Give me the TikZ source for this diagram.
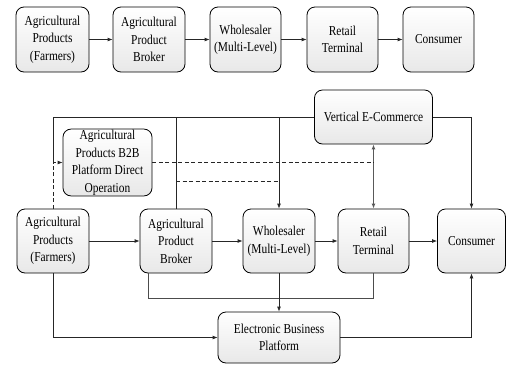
\documentclass[tikz,border=0pt]{standalone}
\usepackage{fontspec}
\setmainfont{Liberation Serif}[FakeStretch=0.84]
\usetikzlibrary{arrows.meta,calc}
\begin{document}
\begin{tikzpicture}[x=1pt,y=-1pt,
  box/.style={draw=black,line width=0.8pt,rounded corners=8pt,top color=white,bottom color=gray!18,
    inner sep=1pt,align=center,font=\fontsize{13.6}{17.5}\selectfont},
  conn/.style={draw=black!85,line width=0.8pt},
  arr/.style={conn,-{Latex[length=5pt,width=4pt]}},
  dsh/.style={conn,dashed,dash pattern=on 4pt off 2.5pt}]
\useasboundingbox (0,0) rectangle (507,365);
% top row
\node[box,minimum width=73pt,minimum height=65pt] (t1) at (52.5,39.5) {Agricultural\\Products\\(Farmers)};
\node[box,minimum width=72pt,minimum height=65pt] (t2) at (149,39.5) {Agricultural\\Product\\Broker};
\node[box,minimum width=71pt,minimum height=65pt] (t3) at (245.5,39.5) {Wholesaler\\(Multi-Level)};
\node[box,minimum width=71pt,minimum height=65pt] (t4) at (342.5,39.5) {Retail\\Terminal};
\node[box,minimum width=71pt,minimum height=65pt] (t5) at (438.5,39.5) {Consumer};
\draw[arr] (t1) -- (t2);
\draw[arr] (t2) -- (t3);
\draw[arr] (t3) -- (t4);
\draw[arr] (t4) -- (t5);
% bottom section
\node[box,minimum width=72pt,minimum height=64pt] (fa) at (53,241) {Agricultural\\Products\\(Farmers)};
\node[box,minimum width=72pt,minimum height=64pt] (br) at (176,241) {Agricultural\\Product\\Broker};
\node[box,minimum width=72pt,minimum height=64pt] (wh) at (279,241) {Wholesaler\\(Multi-Level)};
\node[box,minimum width=71pt,minimum height=64pt] (re) at (373.5,241) {Retail\\Terminal};
\node[box,minimum width=68pt,minimum height=64pt] (co) at (471.5,241) {Consumer};
\node[box,minimum width=118pt,minimum height=54pt] (ve) at (373.5,117) {Vertical E-Commerce};
\node[box,minimum width=89pt,minimum height=65pt] (b2b) at (107.5,162.5) {Agricultural\\Products B2B\\Platform Direct\\Operation};
\node[box,minimum width=122pt,minimum height=51pt] (eb) at (279,337.5) {Electronic Business\\Platform};
% main chain
\draw[arr] (fa) -- (br);
\draw[arr] (br) -- (wh);
\draw[arr] (wh) -- (re);
\draw[arr] (re) -- (co);
% upper links
\coordinate (j1) at (fa.north |- b2b.west);
\draw[conn] (j1) |- (ve.west);
\draw[dsh,-{Latex[length=5pt,width=4pt]}] (fa.north) |- (b2b.west);
\draw[conn] (br.north) -- (br.north |- ve.west);
\draw[arr] (wh.north |- ve.west) -- (wh.north);
\draw[arr] (ve.east) -| (co.north);
\draw[draw=black!65,line width=1.1pt,{Latex[length=5pt,width=4pt]}-{Latex[length=5pt,width=4pt]}] (ve.south -| re.north) -- (re.north);
\coordinate (d1) at (re.north |- b2b.east);
\draw[dsh] (b2b.east) -- (d1);
\coordinate (d2a) at ($(br.north)+(0,-27)$);
\coordinate (d2b) at (wh.north |- d2a);
\draw[dsh] (d2a) -- (d2b);
% lower links
\coordinate (bs) at ($(br.south west)+(9,0)$);
\draw[draw=black!70,line width=1.1pt] (bs) -- ++(0,25) -| (re.south);
\draw[arr] (wh.south) -- (eb.north);
\draw[arr] (fa.south) |- (eb.west);
\draw[arr] (eb.east) -| (co.south);
\end{tikzpicture}
\end{document}
